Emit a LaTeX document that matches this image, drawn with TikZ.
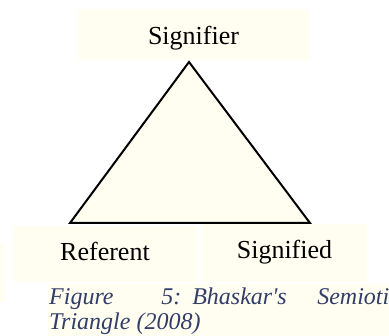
\documentclass[tikz,border=0pt]{standalone}
\usepackage{fontspec}
\setmainfont{Liberation Serif}
\usetikzlibrary{positioning}
\definecolor{paleyellow}{RGB}{255,254,241}
\definecolor{captionblue}{RGB}{50,62,105}

\begin{document}
\begin{tikzpicture}[x=1pt,y=-1pt,
		labelbox/.style={fill=paleyellow, inner sep=0pt, font=\fontsize{26}{30}\selectfont},
		captiontext/.style={text=captionblue, inner sep=0pt, anchor=base west, font=\fontsize{24}{25}\selectfont\itshape}]
		\useasboundingbox (0,0) rectangle (389,336);
		% faint background patches
		\fill[paleyellow] (48,284) rectangle (389,336);
		\fill[paleyellow] (0,243) rectangle (5,302);

		\node[labelbox, minimum width=231pt, text height=36pt, text depth=15pt] (signifier) at (193.5,34.5) {Signifier};
		\node[labelbox, minimum width=184pt, text height=35pt, text depth=21pt] (referent) at (105,254) {Referent};
		\node[labelbox, minimum width=165pt, text height=35pt, text depth=23pt] (signified) at (284.5,253) {Signified};

		\coordinate (apex) at (189,62);
		\coordinate (baseL) at (70,223);
		\coordinate (baseR) at (310,223);
		\draw[line width=2pt, fill=paleyellow] (apex) -- (baseR) -- (baseL) -- cycle;

		\node[captiontext] (caption1) at (49,305) {Figure\hspace{47.7pt}5:\hspace{11pt}Bhaskar\textquotesingle s\hspace{30.5pt}Semiotic};
		\node[captiontext] (caption2) at (49,330) {Triangle (2008)};
	\end{tikzpicture}
\end{document}
